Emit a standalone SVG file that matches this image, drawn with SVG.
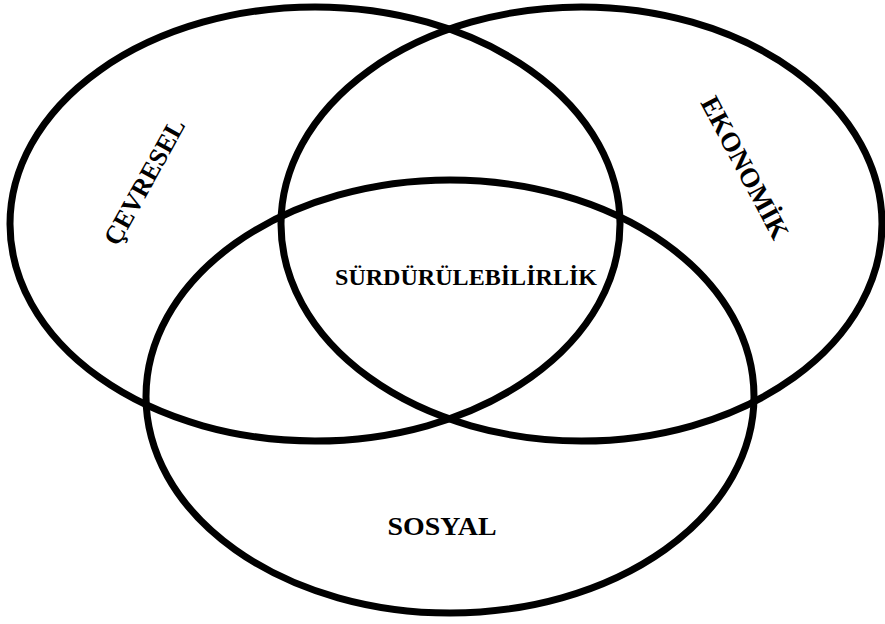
<svg xmlns="http://www.w3.org/2000/svg" width="885" height="624" viewBox="0 0 885 624">
<style>
.ring{fill:none;stroke:#000;stroke-width:7}
.lbl{font-family:"Liberation Serif","Times New Roman",serif;font-weight:bold;fill:#000}
</style>
<rect width="885" height="624" fill="#fff"/>
<g id="cevresel">
<ellipse class="ring" cx="315" cy="224" rx="305" ry="217"/>
<text class="lbl" font-size="26" text-anchor="middle" transform="translate(152,186) rotate(-61)">ÇEVRESEL</text>
</g>
<g id="ekonomik">
<ellipse class="ring" cx="581.5" cy="224" rx="300.5" ry="217"/>
<text class="lbl" font-size="27" text-anchor="middle" transform="translate(737,172) rotate(62)">EKONOMİK</text>
</g>
<g id="sosyal">
<ellipse class="ring" cx="450" cy="396.5" rx="304" ry="216.5"/>
<text class="lbl" font-size="26" x="442" y="535" text-anchor="middle" textLength="109" lengthAdjust="spacingAndGlyphs">SOSYAL</text>
</g>
<g id="surdurulebilirlik">
<text class="lbl" font-size="24" x="466" y="285" text-anchor="middle" textLength="262" lengthAdjust="spacingAndGlyphs">SÜRDÜRÜLEBİLİRLİK</text>
</g>
</svg>
